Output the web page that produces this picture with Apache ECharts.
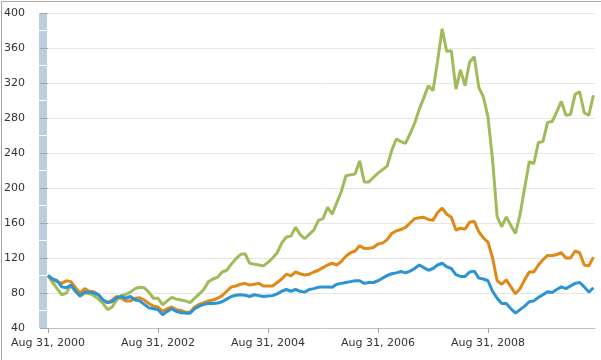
<!DOCTYPE html>
<html>
<head>
<meta charset="utf-8">
<script src="https://cdn.jsdelivr.net/npm/echarts@6/dist/echarts.min.js"></script>
<style>
html,body{margin:0;padding:0;background:#fff;}
#wrap{position:relative;width:601px;height:360px;overflow:hidden;}
#frame{position:absolute;left:1px;top:1px;width:700px;height:400px;border-left:1px solid #a8a8a8;border-top:1px solid #a8a8a8;pointer-events:none;z-index:5;}
#chart{position:absolute;left:0;top:0;width:601px;height:360px;}
</style>
</head>
<body>
<div id="wrap"><div id="chart"></div><div id="frame"></div></div>
<script>
// Monthly observations, Aug 31 2000 (index 0) onward
const startYear = 2000;
const xTickMonths = [0, 24, 48, 72, 96];
const yTicks = [40, 80, 120, 160, 200, 240, 280, 320, 360, 400];

const seriesBlue = [100,96,94,87,86,89,82,77,81,81,80,78,72,69,70,75,76,74,76,72,71,67,63,62,61,55,59,62,59,57.5,57,57,62,65,67,68,68,68.5,70,73,76,77.5,78,77.5,76,78,77,76,76.5,77,79,82,84,82,84,82,81,84,85,86.5,87,87,86.5,90,91,92,93,94,94,91,92,92,94,97,100,102,103,104.5,103,105,108,112,109,106,108,112,114,110,108,101,99,99,104,105,97,96,94,82,74,68,68,62,57,61,65,70,71,75,78,81.5,80.5,84,87,85,88,91,92,87,81,86];

const seriesOrange = [100,95,93,91,94,93,86,80,85,82,81.5,78,72,69,72,76,74,71,71,74,74.5,72,68,65,64,59,62,64,61,60,58,58,64,67,69,71,72,74,77,82,87,88,90,91,89,90,91,88,88,88,92,96,101.5,99.5,104,102,100.5,101.5,104,106,109,112,114,112,116,122,126,128,134,131,131,132,136,137,141,148,151,152.5,155,160,165,166,166.5,164,163,172,177,170,166.5,152,154,153,161,162,150,143,138,120,94,90,95,87,79,85,95,104,104,112,118,123,122.5,124,126,120,120,128,126,112,111,121];

const seriesGreen = [100,92,85,78,80,89,82,76,80,79.5,77,73,68,61,64,72,77,78.5,81,85,86.5,86,81,74,74,66.5,71,75,73,72,71,69,74,79,84,93,96,98,104,106,113,119,124,125,114,113,112,111,115,120,126,137,144,145,155,147,142,147,152,163,165,178,170,183,196,214,215,216,231,207,207,212,217,221,225,243,256,253,251,262,274,290,303,317,311,345,382,356,357,313,335,317,344,350,315,304,281,232,167,156,167,157,148,170,200,230,228,252,253,275,276,287,299,283,284,307,310,286,283,306];

const months = seriesBlue.map((_, i) => i);
function pairs(arr){ return arr.map((v, i) => [months[i], v]); }

const chart = echarts.init(document.getElementById('chart'), null, {renderer: 'canvas'});
const labelFont = {fontFamily: 'DejaVu Sans', fontSize: 11, color: '#333'};
const yMin = yTicks[0], yMax = yTicks[yTicks.length - 1], yStep = yTicks[1] - yTicks[0];
const clearTick = {show: true, length: 1, lineStyle: {color: 'rgba(0,0,0,0)', width: 0}};

chart.setOption({
  animation: false,
  backgroundColor: '#fff',
  grid: {left: 48, right: 6, top: 13, bottom: 32, containLabel: false},
  xAxis: {
    type: 'value', min: 0, max: 119.35, interval: 24,
    axisLine: {show: true, lineStyle: {color: '#b9c3cd', width: 1}},
    axisTick: {show: true, length: 5, lineStyle: {color: '#a0a0a0'}},
    splitLine: {show: false},
    axisLabel: Object.assign({margin: 10, showMaxLabel: false,
      formatter: function(v){
        if (xTickMonths.indexOf(v) < 0) return '';
        return 'Aug 31, ' + (startYear + v / 12);
      }}, labelFont)
  },
  yAxis: [
    {
      type: 'value', min: yMin, max: yMax, interval: yStep, position: 'left', offset: 9,
      axisLine: {show: false},
      axisTick: {show: true, length: 8, lineStyle: {color: '#a8a8a8'}},
      axisLabel: Object.assign({margin: 14}, labelFont),
      splitLine: {show: true, lineStyle: {color: '#e6e6e6', width: 1}}
    },
    {
      type: 'value', min: yMin, max: yMax, interval: yStep, position: 'left', offset: 5,
      axisLine: {show: true, lineStyle: {color: '#bccde0', width: 8, cap: 'butt'}},
      axisTick: Object.assign({inside: false}, clearTick),
      minorTick: {show: true, splitNumber: 2, length: 4, lineStyle: {color: '#ffffff', width: 1}},
      axisLabel: {show: false},
      splitLine: {show: false}
    },
    {
      type: 'value', min: yMin, max: yMax, interval: yStep, position: 'left', offset: 5,
      axisLine: {show: false},
      axisTick: Object.assign({inside: true}, clearTick),
      minorTick: {show: true, splitNumber: 2, length: 4, lineStyle: {color: '#ffffff', width: 1}},
      axisLabel: {show: false},
      splitLine: {show: false}
    }
  ],
  series: [
    {type: 'line', data: pairs(seriesGreen), showSymbol: false, yAxisIndex: 0,
     lineStyle: {color: '#a0bb5a', width: 3}, itemStyle: {color: '#a0bb5a'}},
    {type: 'line', data: pairs(seriesOrange), showSymbol: false, yAxisIndex: 0,
     lineStyle: {color: '#df8917', width: 3}, itemStyle: {color: '#df8917'}},
    {type: 'line', data: pairs(seriesBlue), showSymbol: false, yAxisIndex: 0,
     lineStyle: {color: '#2b94d4', width: 3}, itemStyle: {color: '#2b94d4'}}
  ]
});
</script>
</body>
</html>
